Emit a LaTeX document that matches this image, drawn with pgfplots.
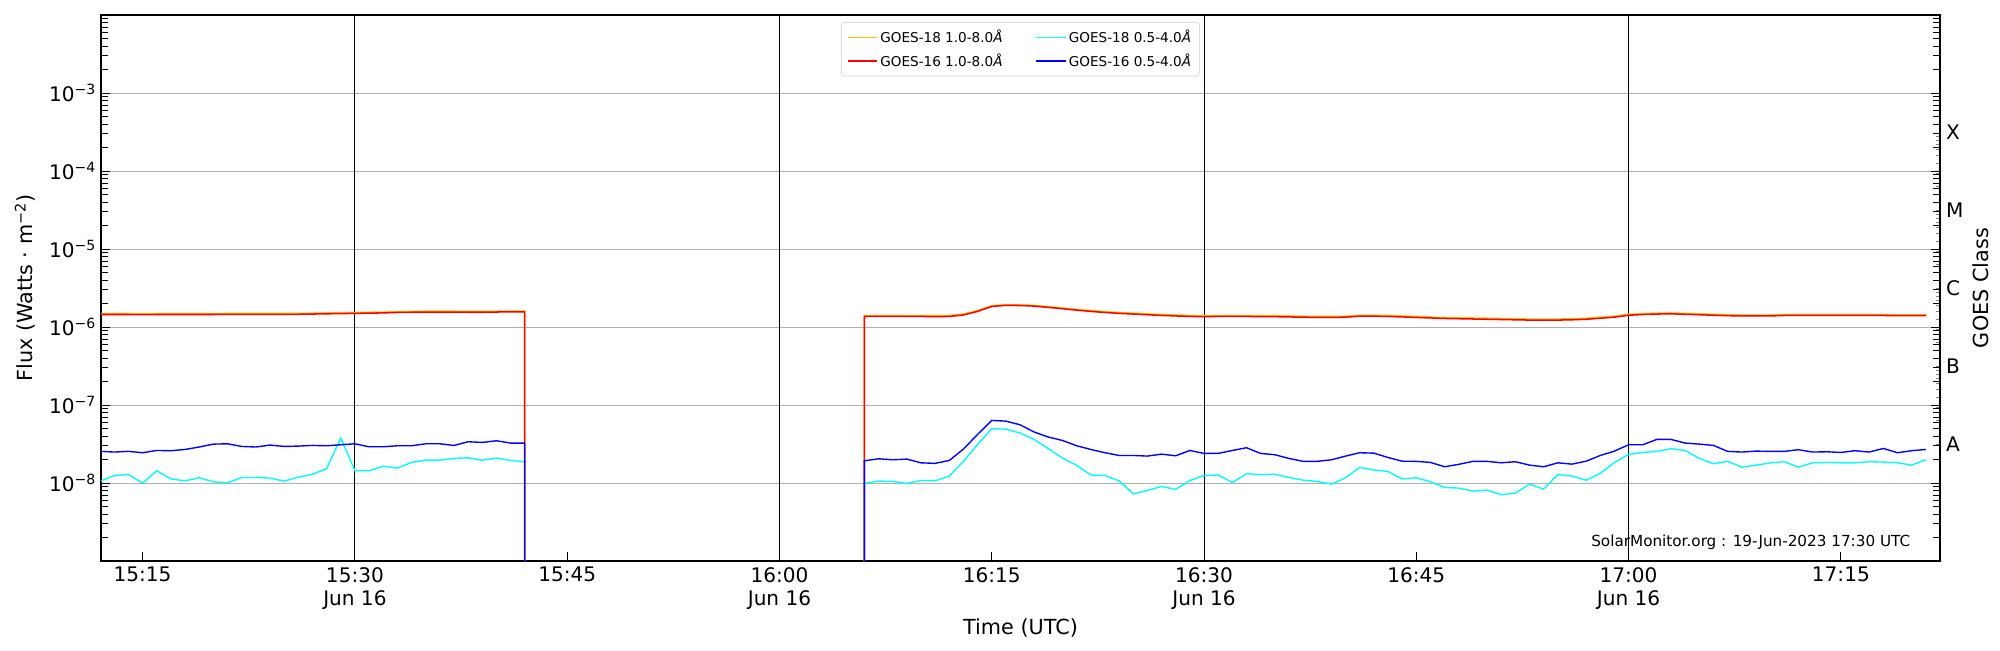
\documentclass[border=0pt]{standalone}
\usepackage{fontspec}
\setmainfont{DejaVu Sans}
\usepackage{pgfplots}
\pgfplotsset{compat=1.18}
\usepackage{pgfplotstable}
\definecolor{goldl}{HTML}{FFC000}
\definecolor{gridc}{HTML}{B0B0B0}
\definecolor{cyanl}{RGB}{0,255,255}
\definecolor{bluel}{RGB}{0,0,255}
\definecolor{redl}{RGB}{255,0,0}

\pgfplotstableread{
t a b c d
12 1.49e-6 1.45e-6 1.06e-8 2.55e-8
13 1.49e-6 1.45e-6 1.25e-8 2.50e-8
14 1.49e-6 1.45e-6 1.29e-8 2.55e-8
15 1.48e-6 1.44e-6 1.00e-8 2.45e-8
16 1.49e-6 1.45e-6 1.44e-8 2.62e-8
17 1.49e-6 1.45e-6 1.13e-8 2.60e-8
18 1.49e-6 1.45e-6 1.07e-8 2.70e-8
19 1.49e-6 1.45e-6 1.17e-8 2.90e-8
20 1.49e-6 1.45e-6 1.04e-8 3.16e-8
21 1.50e-6 1.46e-6 1.01e-8 3.19e-8
22 1.50e-6 1.46e-6 1.18e-8 2.95e-8
23 1.50e-6 1.46e-6 1.18e-8 2.90e-8
24 1.50e-6 1.46e-6 1.16e-8 3.07e-8
25 1.50e-6 1.46e-6 1.06e-8 2.95e-8
26 1.50e-6 1.46e-6 1.19e-8 2.98e-8
27 1.51e-6 1.47e-6 1.30e-8 3.04e-8
28 1.52e-6 1.48e-6 1.53e-8 3.01e-8
29 1.53e-6 1.49e-6 3.78e-8 3.10e-8
30 1.54e-6 1.50e-6 1.44e-8 3.19e-8
31 1.55e-6 1.51e-6 1.44e-8 2.92e-8
32 1.56e-6 1.52e-6 1.64e-8 2.92e-8
33 1.58e-6 1.54e-6 1.56e-8 3.01e-8
34 1.59e-6 1.55e-6 1.84e-8 3.01e-8
35 1.60e-6 1.56e-6 1.97e-8 3.19e-8
36 1.60e-6 1.56e-6 1.97e-8 3.19e-8
37 1.60e-6 1.56e-6 2.07e-8 3.04e-8
38 1.59e-6 1.55e-6 2.11e-8 3.39e-8
39 1.59e-6 1.55e-6 1.97e-8 3.32e-8
40 1.60e-6 1.56e-6 2.09e-8 3.49e-8
41 1.61e-6 1.57e-6 1.95e-8 3.26e-8
42 1.61e-6 1.57e-6 1.88e-8 3.26e-8
42 1e-12 1e-12 1e-12 1e-12
66 1e-12 1e-12 1e-12 1e-12
66 1.41e-6 1.37e-6 9.90e-9 1.93e-8
67 1.41e-6 1.37e-6 1.06e-8 2.05e-8
68 1.41e-6 1.37e-6 1.05e-8 1.99e-8
69 1.41e-6 1.37e-6 9.90e-9 2.03e-8
70 1.41e-6 1.37e-6 1.08e-8 1.82e-8
71 1.40e-6 1.36e-6 1.07e-8 1.79e-8
72 1.41e-6 1.37e-6 1.23e-8 1.95e-8
73 1.47e-6 1.43e-6 1.90e-8 2.73e-8
74 1.63e-6 1.59e-6 3.13e-8 4.21e-8
75 1.88e-6 1.84e-6 4.97e-8 6.36e-8
76 1.94e-6 1.90e-6 4.92e-8 6.23e-8
77 1.93e-6 1.89e-6 4.38e-8 5.59e-8
78 1.90e-6 1.86e-6 3.63e-8 4.51e-8
79 1.83e-6 1.79e-6 2.76e-8 3.89e-8
80 1.76e-6 1.72e-6 2.09e-8 3.52e-8
81 1.69e-6 1.65e-6 1.69e-8 3.01e-8
82 1.63e-6 1.59e-6 1.27e-8 2.70e-8
83 1.58e-6 1.54e-6 1.25e-8 2.45e-8
84 1.54e-6 1.50e-6 1.07e-8 2.26e-8
85 1.51e-6 1.47e-6 7.30e-9 2.26e-8
86 1.48e-6 1.44e-6 8.05e-9 2.22e-8
87 1.45e-6 1.41e-6 9.06e-9 2.35e-8
88 1.43e-6 1.39e-6 8.30e-9 2.24e-8
89 1.41e-6 1.37e-6 1.08e-8 2.62e-8
90 1.40e-6 1.36e-6 1.25e-8 2.40e-8
91 1.41e-6 1.37e-6 1.27e-8 2.40e-8
92 1.41e-6 1.37e-6 1.02e-8 2.62e-8
93 1.41e-6 1.37e-6 1.32e-8 2.84e-8
94 1.40e-6 1.36e-6 1.28e-8 2.40e-8
95 1.40e-6 1.36e-6 1.30e-8 2.31e-8
96 1.39e-6 1.35e-6 1.18e-8 2.07e-8
97 1.38e-6 1.34e-6 1.09e-8 1.90e-8
98 1.37e-6 1.33e-6 1.05e-8 1.90e-8
99 1.37e-6 1.33e-6 9.71e-9 1.99e-8
100 1.38e-6 1.34e-6 1.17e-8 2.22e-8
101 1.42e-6 1.38e-6 1.59e-8 2.45e-8
102 1.42e-6 1.38e-6 1.47e-8 2.42e-8
103 1.41e-6 1.37e-6 1.41e-8 2.13e-8
104 1.39e-6 1.35e-6 1.13e-8 1.91e-8
105 1.37e-6 1.33e-6 1.17e-8 1.90e-8
106 1.35e-6 1.31e-6 1.04e-8 1.84e-8
107 1.33e-6 1.29e-6 8.80e-9 1.62e-8
108 1.32e-6 1.28e-6 8.63e-9 1.74e-8
109 1.31e-6 1.27e-6 7.90e-9 1.90e-8
110 1.30e-6 1.26e-6 8.13e-9 1.90e-8
111 1.29e-6 1.25e-6 7.09e-9 1.82e-8
112 1.28e-6 1.24e-6 7.44e-9 1.88e-8
113 1.27e-6 1.23e-6 9.71e-9 1.70e-8
114 1.27e-6 1.23e-6 8.38e-9 1.62e-8
115 1.27e-6 1.23e-6 1.29e-8 1.82e-8
116 1.28e-6 1.24e-6 1.23e-8 1.75e-8
117 1.30e-6 1.26e-6 1.09e-8 1.91e-8
118 1.34e-6 1.30e-6 1.33e-8 2.26e-8
119 1.38e-6 1.34e-6 1.84e-8 2.57e-8
120 1.46e-6 1.42e-6 2.33e-8 3.10e-8
121 1.49e-6 1.45e-6 2.47e-8 3.10e-8
122 1.51e-6 1.47e-6 2.55e-8 3.63e-8
123 1.52e-6 1.48e-6 2.76e-8 3.63e-8
124 1.50e-6 1.46e-6 2.62e-8 3.26e-8
125 1.48e-6 1.44e-6 2.07e-8 3.16e-8
126 1.46e-6 1.42e-6 1.77e-8 3.04e-8
127 1.44e-6 1.40e-6 1.90e-8 2.55e-8
128 1.43e-6 1.39e-6 1.60e-8 2.50e-8
129 1.43e-6 1.39e-6 1.70e-8 2.57e-8
130 1.43e-6 1.39e-6 1.81e-8 2.55e-8
131 1.45e-6 1.41e-6 1.88e-8 2.55e-8
132 1.45e-6 1.41e-6 1.60e-8 2.68e-8
133 1.45e-6 1.41e-6 1.82e-8 2.50e-8
134 1.45e-6 1.41e-6 1.84e-8 2.52e-8
135 1.45e-6 1.41e-6 1.82e-8 2.47e-8
136 1.45e-6 1.41e-6 1.82e-8 2.60e-8
137 1.45e-6 1.41e-6 1.88e-8 2.50e-8
138 1.45e-6 1.41e-6 1.86e-8 2.78e-8
139 1.44e-6 1.40e-6 1.82e-8 2.45e-8
140 1.44e-6 1.40e-6 1.70e-8 2.60e-8
141 1.44e-6 1.40e-6 1.99e-8 2.70e-8
}\goes

\begin{document}
\begin{tikzpicture}
\useasboundingbox (0,0) rectangle (1445.4pt,469.8pt);
\begin{axis}[
  at={(73pt,64.3pt)}, anchor=south west,
  scale only axis, width=1329pt, height=394.6pt,
  xmin=12.06, xmax=142,
  ymode=log, ymin=1e-9, ymax=1e-2,
  axis line style={black, line width=0.9pt},
  tick align=inside,
  xtick pos=bottom, ytick pos=both,
  major tick length=6.5pt, minor tick length=5pt,
  every tick/.style={black, line width=0.7pt},
  xtick={15,30,45,60,75,90,105,120,135},
  xticklabels={15:15,{15:30\\Jun 16},15:45,{16:00\\Jun 16},16:15,{16:30\\Jun 16},16:45,{17:00\\Jun 16},17:15},
  xticklabel style={align=center, font=\fontsize{14.5}{16.8}\selectfont, yshift=-1pt},
  ytick={1e-8,1e-7,1e-6,1e-5,1e-4,1e-3},
  yticklabels={10\textsuperscript{−8},10\textsuperscript{−7},10\textsuperscript{−6},10\textsuperscript{−5},10\textsuperscript{−4},10\textsuperscript{−3}},
  minor ytick={2e-9,3e-9,4e-9,5e-9,6e-9,7e-9,8e-9,9e-9,
    2e-8,3e-8,4e-8,5e-8,6e-8,7e-8,8e-8,9e-8,
    2e-7,3e-7,4e-7,5e-7,6e-7,7e-7,8e-7,9e-7,
    2e-6,3e-6,4e-6,5e-6,6e-6,7e-6,8e-6,9e-6,
    2e-5,3e-5,4e-5,5e-5,6e-5,7e-5,8e-5,9e-5,
    2e-4,3e-4,4e-4,5e-4,6e-4,7e-4,8e-4,9e-4,
    2e-3,3e-3,4e-3,5e-3,6e-3,7e-3,8e-3,9e-3},
  yticklabel style={font=\fontsize{14.5}{16.8}\selectfont},
  ymajorgrids, major grid style={gridc, line width=0.8pt},
  xlabel={Time (UTC)}, ylabel={Flux (Watts · m\textsuperscript{−2})},
  label style={font=\fontsize{15}{18}\selectfont},
  ylabel shift=3pt,
  legend columns=2,
  legend cell align=left,
  legend style={at={(0.5,0.987)}, anchor=north, draw=black!20, rounded corners=2pt,
    fill=white, fill opacity=0.8, text opacity=1,
    font=\fontsize{9.8}{11.5}\selectfont, inner xsep=4pt, inner ysep=3.5pt,
    /tikz/every even column/.append style={column sep=22pt},
    row sep=2.5pt},
  legend image code/.code={\draw[#1] (0pt,0pt) -- (21pt,0pt);},
]
\addplot[black, line width=0.75pt, forget plot] coordinates {(30,1e-10) (30,1)};
\addplot[black, line width=0.75pt, forget plot] coordinates {(60,1e-10) (60,1)};
\addplot[black, line width=0.75pt, forget plot] coordinates {(90,1e-10) (90,1)};
\addplot[black, line width=0.75pt, forget plot] coordinates {(120,1e-10) (120,1)};
\addplot[goldl, line width=1pt] table[x=t, y=a] {\goes};
\addlegendentry{GOES-18 1.0-8.0\textit{Å}}
\addplot[cyanl, line width=1pt] table[x=t, y=c] {\goes};
\addlegendentry{GOES-18 0.5-4.0\textit{Å}}
\addplot[redl, line width=1.1pt] table[x=t, y=b] {\goes};
\addlegendentry{GOES-16 1.0-8.0\textit{Å}}
\addplot[bluel, line width=1pt] table[x=t, y=d] {\goes};
\addlegendentry{GOES-16 0.5-4.0\textit{Å}}
\node[anchor=east, font=\fontsize{11}{13}\selectfont] at (rel axis cs:0.9865,0.034) {SolarMonitor.org : 19-Jun-2023 17:30 UTC};
\end{axis}
\begin{axis}[
  at={(73pt,64.3pt)}, anchor=south west,
  scale only axis, width=1329pt, height=394.6pt,
  xmin=12.06, xmax=142,
  ymode=log, ymin=1e-9, ymax=1e-2,
  hide x axis, axis y line*=right,
  axis line style={black, line width=0.9pt},
  ytick={3.162e-8,3.162e-7,3.162e-6,3.162e-5,3.162e-4},
  yticklabels={A,B,C,M,X},
  major tick length=0pt,
  yticklabel pos=right,
  yticklabel style={font=\fontsize{14.5}{16.8}\selectfont, xshift=1pt},
  ylabel={GOES Class}, ylabel near ticks,
  label style={font=\fontsize{15}{18}\selectfont},
]
\end{axis}
\end{tikzpicture}
\end{document}
